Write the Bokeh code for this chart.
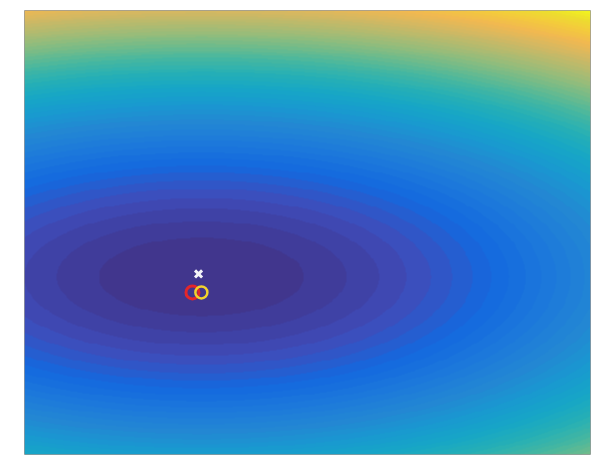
import numpy as np
from bokeh.plotting import figure
from bokeh.models import LinearColorMapper, Range1d
from bokeh.embed import file_html
from bokeh.resources import INLINE

# Parameter window shown (w1 horizontal, w2 vertical)
w1_lim = [-1.25, 2.75]
w2_lim = [-1.2, 1.8]

# Quadratic cost J(w) = c1*(w1-m1)^2 + c2*(w2-m2)^2
curvature = [0.135, 1.0]
minimum = [0.0, 0.0]
n_levels = 60

# Points marked on the surface
opt_w1 = [-0.02]
opt_w2 = [0.02]
est_red_w1 = [-0.063]
est_red_w2 = [-0.105]
est_yellow_w1 = [0.0]
est_yellow_w2 = [-0.105]

# Parula anchor colours (r, g, b), evenly spaced along the map
parula_anchors = [
    (0.2081, 0.1663, 0.5292), (0.1959, 0.2645, 0.7279), (0.0117, 0.3875, 0.8820),
    (0.0498, 0.4586, 0.8641), (0.0793, 0.5200, 0.8312), (0.0343, 0.5966, 0.8199),
    (0.0228, 0.6535, 0.7768), (0.0843, 0.6928, 0.7062), (0.2178, 0.7250, 0.6193),
    (0.3953, 0.7459, 0.5244), (0.5709, 0.7485, 0.4494), (0.7184, 0.7411, 0.3905),
    (0.8507, 0.7299, 0.3360), (0.9739, 0.7314, 0.2666), (0.9880, 0.8066, 0.1794),
    (0.9589, 0.8949, 0.1132), (0.9763, 0.9831, 0.0538),
]
anchor_pos = np.array([0, 4, 8, 12, 16, 20, 24, 28, 32, 36, 40, 44, 48, 52, 56, 60, 63]) / 63.0
anchor_rgb = np.array(parula_anchors)
# light screen glare mixed into every colour
glare_rgb = np.array([170, 160, 200]) / 255.0
glare_amount = 0.10


def parula(n):
    t = np.linspace(0, 1, n)
    cols = []
    for ti in t:
        rgb = np.array([np.interp(ti, anchor_pos, anchor_rgb[:, k]) for k in range(3)])
        rgb = (1 - glare_amount) * rgb + glare_amount * glare_rgb
        cols.append("#%02x%02x%02x" % tuple(int(round(c * 255)) for c in rgb))
    return cols


# Evaluate the cost on a fine grid
nx, ny = 600, 470
w1 = np.linspace(w1_lim[0], w1_lim[1], nx)
w2 = np.linspace(w2_lim[0], w2_lim[1], ny)
W1, W2 = np.meshgrid(w1, w2)
J = curvature[0] * (W1 - minimum[0]) ** 2 + curvature[1] * (W2 - minimum[1]) ** 2

# Discrete palette gives filled-contour bands
mapper = LinearColorMapper(palette=parula(n_levels), low=float(J.min()), high=float(J.max()))

p = figure(
    width=594, height=456,
    x_range=Range1d(*w1_lim), y_range=Range1d(*w2_lim),
    output_backend="svg", toolbar_location=None,
    min_border_left=24, min_border_right=4, min_border_top=10, min_border_bottom=2,
)
p.axis.visible = False
p.grid.visible = False
p.outline_line_color = "#9a9a9a"
p.outline_line_width = 1
p.background_fill_color = "white"
p.border_fill_color = "white"

p.image(image=[J], x=w1_lim[0], y=w2_lim[0],
        dw=w1_lim[1] - w1_lim[0], dh=w2_lim[1] - w2_lim[0], color_mapper=mapper)

# Estimates and the optimum
p.scatter(est_red_w1, est_red_w2, marker="circle", size=13,
          fill_color=None, line_color="#e3262b", line_width=3)
p.scatter(est_yellow_w1, est_yellow_w2, marker="circle", size=12,
          fill_color=None, line_color="#f2d22c", line_width=2.5)
p.scatter(opt_w1, opt_w2, marker="x", size=10,
          line_color="#f4f4f8", line_width=3)

open("out.html", "w").write(file_html(p, INLINE))
